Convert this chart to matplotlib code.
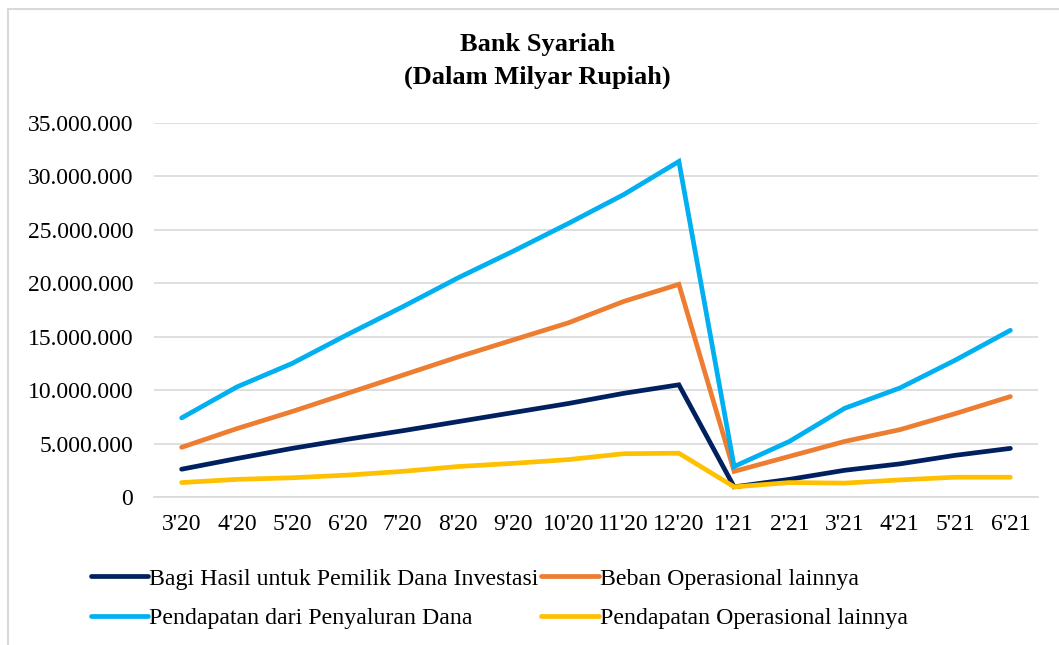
import matplotlib
matplotlib.use("Agg")
import matplotlib.pyplot as plt
from matplotlib.ticker import FuncFormatter, MultipleLocator
from matplotlib.patches import Rectangle

# periods (month'year)
periods = ["3'20", "4'20", "5'20", "6'20", "7'20", "8'20", "9'20", "10'20",
           "11'20", "12'20", "1'21", "2'21", "3'21", "4'21", "5'21", "6'21"]

# values (Milyar Rupiah)
bagi_hasil = [2600000, 3600000, 4550000, 5400000, 6200000, 7050000, 7900000, 8750000,
              9700000, 10500000, 950000, 1650000, 2500000, 3100000, 3900000, 4550000]
beban_ops = [4650000, 6400000, 8000000, 9700000, 11400000, 13100000, 14700000, 16300000,
             18300000, 19900000, 2400000, 3800000, 5200000, 6300000, 7800000, 9400000]
pendapatan_dana = [7400000, 10300000, 12500000, 15200000, 17800000, 20500000, 23000000, 25600000,
                   28300000, 31400000, 2850000, 5200000, 8300000, 10200000, 12800000, 15600000]
pendapatan_ops = [1350000, 1650000, 1800000, 2050000, 2400000, 2850000, 3150000, 3500000,
                  4050000, 4100000, 950000, 1350000, 1300000, 1600000, 1850000, 1850000]

series_names = ["Bagi Hasil untuk Pemilik Dana Investasi", "Beban Operasional lainnya",
                "Pendapatan dari Penyaluran Dana", "Pendapatan Operasional lainnya"]
colors = ["#002060", "#ED7D31", "#00B0F0", "#FFC000"]

plt.rcParams['font.family'] = ['Liberation Serif', 'DejaVu Serif']

fig = plt.figure(figsize=(10.59, 6.45), dpi=100)
ax = fig.add_axes([154/1059, 1 - 497/645, (1038-154)/1059, (497-123)/645])

# chart border (left + top only visible)
fig.patches.append(Rectangle((8/1059, -0.1), 1.2, 1 - 9/645 + 0.1, transform=fig.transFigure,
                             fill=False, edgecolor="#D9D9D9", linewidth=1.5))

x = list(range(len(periods)))
lines = []
for vals, name, c in zip([bagi_hasil, beban_ops, pendapatan_dana, pendapatan_ops], series_names, colors):
    ln, = ax.plot(x, vals, color=c, linewidth=3.4, label=name, solid_capstyle='round',
                  solid_joinstyle='miter', zorder=3)
    lines.append(ln)

ax.set_xlim(-0.5, len(periods) - 0.5)
ax.set_ylim(0, 35000000)
ax.yaxis.set_major_locator(MultipleLocator(5000000))
ax.yaxis.set_major_formatter(FuncFormatter(lambda v, p: f"{int(v):,}".replace(",", ".")))
ax.set_xticks(x)
ax.set_xticklabels(periods)
ax.grid(axis='y', color="#D9D9D9", linewidth=1.2, zorder=0)
ax.set_axisbelow(True)
for s in ['top', 'right', 'left']:
    ax.spines[s].set_visible(False)
ax.spines['bottom'].set_color("#D9D9D9")
ax.spines['bottom'].set_linewidth(1.2)
ax.tick_params(axis='both', length=0, labelsize=17)
ax.tick_params(axis='y', pad=15)
ax.tick_params(axis='x', pad=12)

fig.text(537/1059, 1 - 45/645, "Bank Syariah", ha='center', va='center', fontsize=19, fontweight='bold')
fig.text(537/1059, 1 - 77/645, "(Dalam Milyar Rupiah)", ha='center', va='center', fontsize=19, fontweight='bold')

# legend, row-wise like the original
order = [0, 2, 1, 3]
fig.legend([lines[i] for i in order], [series_names[i] for i in order], ncol=2,
           loc='upper left', bbox_to_anchor=(79/1059, 1 - 556/645), frameon=False,
           fontsize=17.2, handlelength=2.4, handletextpad=0.05, columnspacing=0.1,
           labelspacing=0.75, borderpad=0)

fig.savefig("out.png", dpi=100)
